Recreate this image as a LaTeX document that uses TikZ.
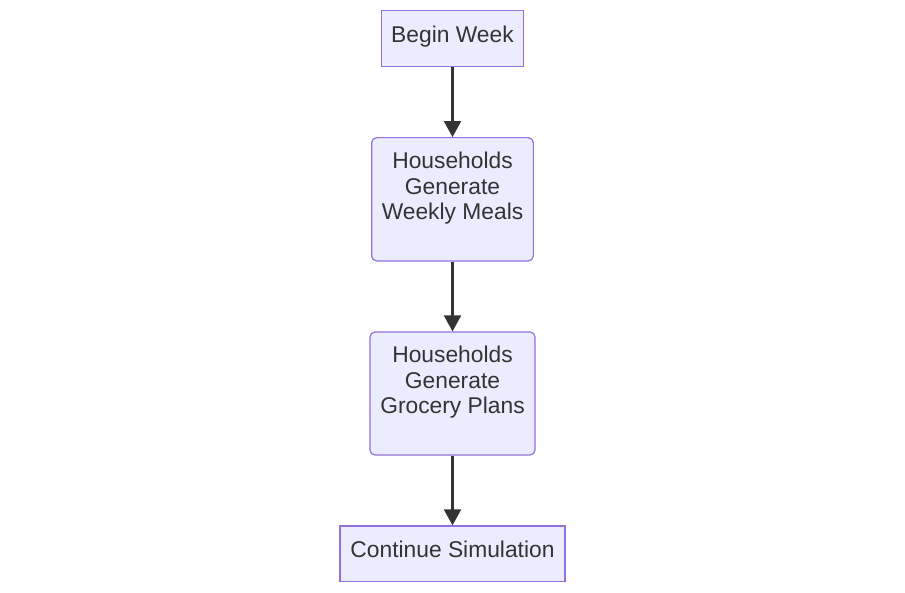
\documentclass[tikz,border=0pt]{standalone}
\usepackage{fontspec}
\setmainfont{Liberation Sans}
\usetikzlibrary{arrows.meta}
\definecolor{boxfill}{HTML}{ECECFF}
\definecolor{boxline}{HTML}{9370DB}
\definecolor{ink}{HTML}{333333}
\begin{document}
\begin{tikzpicture}[x=1pt,y=-1pt,
  boxsq/.style={draw=boxline, fill=boxfill, line width=1.2pt, inner sep=0pt},
  boxrd/.style={boxsq, rounded corners=5pt},
  txt/.style={text=ink, inner sep=0pt, align=center,
    font=\fontsize{22.8}{25.5}\selectfont},
  flow/.style={draw=ink, line width=2.2pt, -{Triangle[length=16pt,width=17pt]}}]
\useasboundingbox (0,0) rectangle (905,593);
\fill[white] (0,0) rectangle (905,593);
\node[boxsq, minimum width=142.7pt, minimum height=56pt] (start) at (452.5,38.7) {};
\node[boxrd, minimum width=161.7pt, minimum height=123.3pt] (meals) at (452.5,199.3) {};
\node[boxrd, minimum width=165pt, minimum height=123pt] (groc) at (452.5,393.5) {};
\node[boxsq, minimum width=225pt, minimum height=55.5pt] (cont) at (452.5,553.7) {};
\node[txt, anchor=base] (startT) at (452.5,42.3) {Begin Week};
\node[txt, anchor=north] (mealsT) at (452.5,152.0) {Households\\Generate\\Weekly Meals};
\node[txt, anchor=north] (grocT) at (452.5,346.0) {Households\\Generate\\Grocery Plans};
\node[txt, anchor=base] (contT) at (452.5,557.6) {Continue Simulation};
\draw[flow] (start.south) -- (meals.north);
\draw[flow] (meals.south) -- (groc.north);
\draw[flow] (groc.south) -- (cont.north);
\end{tikzpicture}
\end{document}
